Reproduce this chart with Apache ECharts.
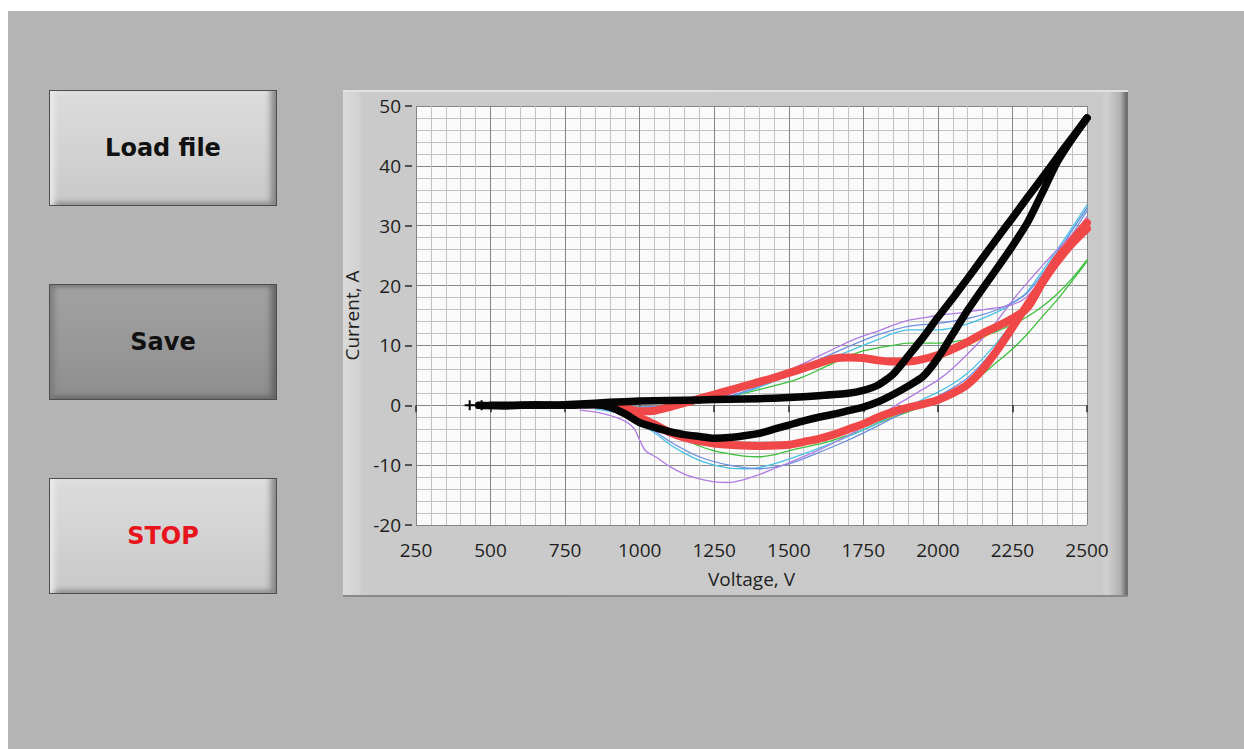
<!DOCTYPE html>
<html>
<head>
<meta charset="utf-8">
<title>Current vs Voltage</title>
<script src="https://cdn.jsdelivr.net/npm/echarts@6/dist/echarts.min.js"></script>
<style>
    body { margin: 0; background: #ffffff; width: 1244px; height: 749px; overflow: hidden; position: relative; }
    #bg { position: absolute; left: 8px; top: 11px; width: 1236px; height: 738px; background: #b4b4b4; }
    #panel {
        position: absolute; left: 343px; top: 90px; width: 785px; height: 507px; box-sizing: border-box;
        background: linear-gradient(to right, #dadada 0%, #d2d2d2 2%, #cacaca 2.4%, #c9c9c9 96.5%, #d0d0d0 97.3%, #b2b2b2 99%, #6e6e6e 99.8%);
        box-shadow: inset 0 2px 0 #e2e2e2, inset 0 -2px 0 #8a8a8a;
    }
    .btn {
        position: absolute; left: 49px; width: 228px; height: 116px; box-sizing: border-box;
        border: 1px solid #4e4e4e; display: flex; align-items: center; justify-content: center;
        font: bold 24px "DejaVu Sans", sans-serif; color: #111;
    }
    .light {
        background: linear-gradient(to bottom, #dcdcdc 0%, #d2d2d2 55%, #c8c8c8 100%);
        box-shadow: inset 9px 0 6px -5px #ececec, inset -9px 0 6px -4px #858585,
                    inset 0 5px 4px -3px #e8e8e8, inset 0 -6px 5px -3px #8e8e8e;
    }
    .dark {
        background: linear-gradient(to bottom, #a2a2a2 0%, #989898 55%, #8e8e8e 100%);
        box-shadow: inset 9px 0 6px -5px #7c7c7c, inset -9px 0 6px -4px #666666,
                    inset 0 5px 4px -3px #7a7a7a, inset 0 -6px 5px -3px #6a6a6a;
    }
    #chart { position: absolute; left: 0; top: 0; width: 1244px; height: 749px; }
</style>
</head>
<body>
<div id="bg"></div>
<div id="panel"></div>
<div class="btn light" style="top:90px">Load file</div>
<div class="btn dark" style="top:284px">Save</div>
<div class="btn light" style="top:478px; color:#e8141c">STOP</div>
<div id="chart"></div>
<script>
// axis ranges
var voltRange = [250, 2500, 250];
var currRange = [-20, 50, 10];

// black trace (thick), lead-in, rising and falling branch
var blackLead = [[430, 0], [470, 0]];
var blackRise = [[460, 0], [550, -0.1], [650, 0.1], [750, 0], [850, 0.1], [900, -0.3], [950, -1.4], [1000, -2.9],
    [1050, -3.7], [1100, -4.4], [1150, -4.9], [1200, -5.2], [1250, -5.5], [1300, -5.4], [1350, -5.1], [1400, -4.7],
    [1450, -4.0], [1500, -3.3], [1550, -2.6], [1600, -2.0], [1650, -1.5], [1700, -0.9], [1750, -0.3], [1800, 0.6],
    [1850, 1.8], [1900, 3.2], [1950, 4.8], [2000, 7.9], [2050, 11.9], [2100, 15.9], [2150, 19.5], [2200, 23],
    [2250, 26.6], [2300, 30.5], [2350, 35.5], [2400, 40.6], [2450, 44.5], [2500, 48]];
var blackFall = [[2500, 48], [2450, 44.7], [2400, 41.4], [2350, 38], [2300, 34.7], [2250, 31.3], [2200, 28],
    [2150, 24.6], [2100, 21.2], [2050, 17.9], [2000, 14.7], [1950, 11.3], [1900, 8.2], [1850, 5.2], [1800, 3.4],
    [1750, 2.5], [1700, 2.0], [1600, 1.6], [1500, 1.3], [1400, 1.1], [1300, 1.0], [1200, 0.9], [1100, 0.8],
    [1000, 0.7], [900, 0.5], [800, 0.2], [700, 0], [600, 0], [500, 0]];

// red trace (thick)
var redRise = [[900, 0], [950, -0.8], [1000, -2], [1050, -3.2], [1100, -4.5], [1150, -5.4], [1200, -6], [1250, -6.4],
    [1300, -6.6], [1400, -6.8], [1500, -6.6], [1550, -6.1], [1600, -5.6], [1650, -4.9], [1700, -4], [1750, -3.1],
    [1800, -2], [1850, -1.1], [1900, -0.4], [1950, 0.2], [2000, 0.9], [2050, 2], [2100, 3.5], [2150, 6], [2200, 9.3],
    [2250, 13], [2300, 16.8], [2350, 20.5], [2400, 24], [2450, 27], [2500, 29.5]];
var redFall = [[2500, 30.5], [2450, 27.5], [2400, 24.5], [2350, 20.5], [2300, 16.3], [2250, 14.5], [2200, 13.2],
    [2150, 12], [2100, 10.6], [2050, 9.4], [2000, 8.4], [1950, 7.7], [1900, 7.3], [1850, 7.3], [1800, 7.5],
    [1750, 7.9], [1700, 8], [1650, 7.8], [1600, 7], [1550, 6.2], [1500, 5.4], [1450, 4.6], [1400, 3.9], [1350, 3.2],
    [1300, 2.5], [1250, 1.8], [1200, 1.1], [1150, 0.4], [1100, -0.3], [1050, -0.9], [1000, -1], [950, -0.5], [900, 0]];

// thin traces
var violetRise = [[800, -0.8], [870, -1.3], [940, -2.4], [980, -3.8], [1000, -5.8], [1020, -7.6], [1060, -8.8],
    [1100, -10.2], [1150, -11.5], [1200, -12.3], [1250, -12.8], [1300, -12.9], [1350, -12.4], [1400, -11.6],
    [1450, -10.6], [1500, -9.6], [1600, -7.5], [1700, -5], [1750, -3.6], [1800, -2], [1850, -0.3], [1900, 1.2],
    [1950, 2.7], [2000, 4.2], [2050, 6.2], [2100, 8.6], [2150, 11.2], [2200, 14.2], [2250, 17.5], [2300, 20.5],
    [2400, 26], [2500, 31]];
var violetFall = [[2500, 31.5], [2400, 24.5], [2300, 18.2], [2250, 16.8], [2200, 16.3], [2100, 15.6], [2000, 15],
    [1950, 14.6], [1900, 14.2], [1850, 13.4], [1800, 12.4], [1750, 11.6], [1700, 10.6], [1650, 9.4], [1600, 8.2],
    [1550, 7], [1500, 5.8], [1400, 3.6], [1300, 1.8], [1200, 0.6], [1100, -0.2], [1000, -0.5], [900, -0.5], [800, -0.3]];

var cyanRise = [[850, -0.6], [950, -1.6], [1000, -3], [1050, -4.6], [1100, -6.5], [1150, -8], [1200, -9.2],
    [1250, -10], [1300, -10.5], [1350, -10.6], [1400, -10.4], [1450, -9.8], [1500, -9], [1600, -7.2], [1700, -5.2],
    [1750, -4.1], [1800, -2.9], [1850, -1.6], [1900, -0.3], [1950, 1], [2000, 2.2], [2050, 3.6], [2100, 5.4],
    [2150, 7.8], [2200, 10.6], [2250, 13.8], [2300, 17.5], [2400, 25.5], [2500, 33]];
var cyanFall = [[2500, 33.5], [2400, 26], [2300, 19], [2250, 17], [2200, 15.6], [2100, 13.6], [2000, 12.6],
    [1950, 12.6], [1900, 12.6], [1850, 12], [1800, 11], [1750, 10], [1700, 9], [1600, 7], [1500, 5], [1400, 3],
    [1300, 1.4], [1200, 0.4], [1100, -0.2], [1000, -0.4], [900, -0.4]];

var blueRise = [[900, -0.8], [1000, -2.6], [1100, -6], [1200, -8.6], [1300, -10], [1400, -10.6], [1500, -9.8],
    [1600, -7.9], [1700, -5.8], [1800, -3.4], [1900, -0.8], [2000, 1.5], [2100, 4.6], [2200, 10], [2300, 17],
    [2400, 24.5], [2500, 32.5]];
var blueFall = [[2500, 33], [2400, 25.5], [2300, 18.8], [2200, 16], [2100, 14.5], [2000, 13.7], [1900, 13.2],
    [1800, 11.8], [1700, 9.8], [1600, 7.6], [1500, 5.4], [1400, 3.2], [1300, 1.5], [1200, 0.4], [1100, -0.1],
    [1000, -0.3], [900, -0.4]];

var greenRise = [[900, -0.3], [1000, -1.8], [1100, -4.2], [1150, -5.6], [1200, -6.8], [1250, -7.6], [1300, -8.1],
    [1350, -8.5], [1400, -8.6], [1450, -8.3], [1500, -7.6], [1600, -6.5], [1650, -5.8], [1700, -5], [1750, -4.1],
    [1800, -3], [1850, -2], [1900, -1.1], [1950, -0.2], [2000, 0.9], [2050, 2], [2100, 3.4], [2150, 5.2], [2200, 7.3],
    [2250, 9.4], [2300, 11.9], [2350, 14.8], [2400, 17.6], [2450, 20.8], [2500, 24]];
var greenFall = [[2500, 24.3], [2450, 21.2], [2400, 18.6], [2350, 16.5], [2300, 14.8], [2250, 13.5], [2200, 12.4],
    [2150, 11.6], [2100, 11], [2050, 10.6], [2000, 10.4], [1950, 10.4], [1900, 10.4], [1850, 10], [1800, 9.6],
    [1750, 9.1], [1700, 8.2], [1650, 7.1], [1600, 5.9], [1550, 4.8], [1500, 3.9], [1400, 2.6], [1300, 1.4],
    [1200, 0.4], [1100, -0.2], [1000, -0.3], [900, -0.3]];

var yellowRise = [[1100, -4.6], [1200, -6.2], [1300, -6.9], [1400, -7], [1500, -6.6], [1600, -5.8], [1750, -3.6],
    [1900, -0.9], [2000, 0.6], [2100, 3.2], [2200, 9], [2300, 16], [2400, 23.5], [2500, 29]];
var yellowFall = [[2500, 29.5], [2400, 23.8], [2300, 15.6], [2200, 12.6], [2100, 10], [2000, 7.9], [1900, 7],
    [1800, 7.1], [1700, 7.6], [1600, 6.6], [1500, 5], [1400, 3.5], [1300, 2.1], [1200, 0.8]];

var plusSymbol = 'path://M4,0H6V4H10V6H6V10H4V6H0V4H4Z';

function trace(data, color, width, z, smooth) {
    return {
        type: 'line',
        data: data,
        showSymbol: false,
        smooth: smooth,
        z: z,
        silent: true,
        lineStyle: {color: color, width: width, join: 'round', cap: 'round'}
    };
}

var chart = echarts.init(document.getElementById('chart'), null, {renderer: 'svg'});

var axisFont = {fontFamily: 'Open Sans', fontSize: 19, color: '#1e1e1e'};

function plain(v) {
    return String(v);
}

var option = {
    animation: false,
    backgroundColor: 'transparent',
    grid: {
        left: 416, top: 106, width: 671, height: 419,
        show: true, backgroundColor: '#fafafa', borderWidth: 0
    },
    xAxis: {
        type: 'value',
        min: voltRange[0], max: voltRange[1], interval: voltRange[2],
        offset: 3,
        name: 'Voltage, V',
        nameLocation: 'middle',
        nameGap: 41,
        nameTextStyle: axisFont,
        axisLine: {show: false},
        axisTick: {show: true, length: 7, lineStyle: {color: '#2a2a2a', width: 1.5}},
        axisLabel: Object.assign({margin: 12, formatter: plain}, axisFont),
        splitLine: {show: true, lineStyle: {color: '#868686', width: 1}},
        minorTick: {show: false, splitNumber: 5},
        minorSplitLine: {show: true, lineStyle: {color: '#c2c2c2', width: 1}}
    },
    yAxis: {
        type: 'value',
        min: currRange[0], max: currRange[1], interval: currRange[2],
        offset: 4,
        name: 'Current, A',
        nameLocation: 'middle',
        nameGap: 51,
        nameTextStyle: axisFont,
        axisLine: {show: false},
        axisTick: {show: true, length: 7, lineStyle: {color: '#2a2a2a', width: 1.5}},
        axisLabel: Object.assign({margin: 11, formatter: plain}, axisFont),
        splitLine: {show: true, lineStyle: {color: '#868686', width: 1}},
        minorTick: {show: false, splitNumber: 5},
        minorSplitLine: {show: true, lineStyle: {color: '#c2c2c2', width: 1}}
    },
    series: [
        trace(yellowRise, '#d6d62a', 1.3, 3, 0.3),
        trace(yellowFall, '#d6d62a', 1.3, 3, 0.3),
        trace(greenRise, '#3cbf3c', 1.3, 3, 0.3),
        trace(greenFall, '#3cbf3c', 1.3, 3, 0.3),
        trace(cyanRise, '#48c2e4', 1.3, 3, 0.3),
        trace(cyanFall, '#48c2e4', 1.3, 3, 0.3),
        trace(blueRise, '#6f8ee0', 1.3, 3, 0.3),
        trace(blueFall, '#6f8ee0', 1.3, 3, 0.3),
        trace(violetRise, '#b07ce2', 1.3, 3, 0.3),
        trace(violetFall, '#b07ce2', 1.3, 3, 0.3),
        trace(redRise, '#f04848', 8, 4, 0.3),
        trace(redFall, '#f04848', 8, 4, 0.3),
        {
            type: 'line',
            data: blackLead,
            symbol: plusSymbol,
            symbolSize: 10,
            showSymbol: true,
            z: 5,
            silent: true,
            itemStyle: {color: '#000'},
            lineStyle: {color: '#000', width: 1.3}
        },
        trace(blackRise, '#050505', 7.5, 5, 0.2),
        trace(blackFall, '#050505', 7.5, 5, 0.2)
    ]
};

chart.setOption(option);
</script>
</body>
</html>
